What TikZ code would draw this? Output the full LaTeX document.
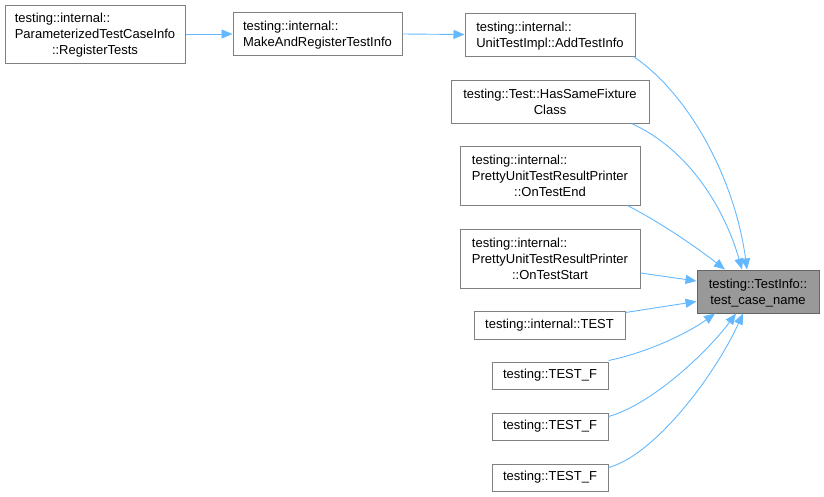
\documentclass[tikz,border=0pt]{standalone}
\usepackage{fontspec}
\setmainfont{Liberation Sans}
\usetikzlibrary{arrows.meta}
\definecolor{edgeblue}{HTML}{63B8FF}
\definecolor{boxgray}{HTML}{808080}
\definecolor{tgtfill}{HTML}{999999}
\definecolor{tgtborder}{HTML}{666666}
\newcommand\fnlines[2]{\raisebox{-1.5pt}[\height][\depth]{\begin{tabular}{@{}l@{}}#1\\\multicolumn{1}{@{}c@{}}{#2}\end{tabular}}}
\tikzset{
  fn/.style={draw=boxgray, line width=1pt, fill=white, rectangle, inner sep=0pt, align=center,
    font=\fontsize{13}{16}\selectfont},
  tgt/.style={fn, draw=tgtborder, fill=tgtfill},
  edge/.style={draw=edgeblue, line width=0.9pt, -{Stealth[length=11pt,width=9pt,inset=0pt]}}
}
\begin{document}
\begin{tikzpicture}[x=1pt,y=-1pt]
\useasboundingbox (0,0) rectangle (824,496);
\node[fn, minimum width=180, minimum height=58] (A) at (95,34) {\fnlines{testing::internal::\\ParameterizedTestCaseInfo}{::RegisterTests}};
\node[fn, minimum width=169, minimum height=43] (B) at (317.5,34) {\fnlines{testing::internal::}{MakeAndRegisterTestInfo}};
\node[fn, minimum width=170, minimum height=43] (C) at (550,34.5) {\fnlines{testing::internal::}{UnitTestImpl::AddTestInfo}};
\node[fn, minimum width=198, minimum height=43] (D) at (550,101.5) {\fnlines{testing::Test::HasSameFixture}{Class}};
\node[fn, minimum width=180, minimum height=59] (E) at (550,175.5) {\fnlines{testing::internal::\\PrettyUnitTestResultPrinter}{::OnTestEnd}};
\node[fn, minimum width=180, minimum height=59] (F) at (550,258.5) {\fnlines{testing::internal::\\PrettyUnitTestResultPrinter}{::OnTestStart}};
\node[tgt, minimum width=122, minimum height=43] (G) at (758,291.5) {\fnlines{testing::TestInfo::}{test\_case\_name}};
\node[fn, minimum width=151, minimum height=28] (H) at (549.5,325) {testing::internal::TEST};
\node[fn, minimum width=116, minimum height=27] (I) at (550,375.5) {testing::TEST\_F};
\node[fn, minimum width=116, minimum height=27] (J) at (550,426.5) {testing::TEST\_F};
\node[fn, minimum width=116, minimum height=27] (K) at (550,477.5) {testing::TEST\_F};

\draw[edge] (A.east) -- (B.west);
\draw[edge] (B.east) -- (C.west);
\draw[edge] ([xshift=-2pt]C.south east) .. controls (690,95) and (735,180) .. ([xshift=-11pt]G.north);
\draw[edge] ([xshift=-18pt]D.south east) .. controls (690,150) and (725,210) .. ([xshift=-16pt]G.north);
\draw[edge] ([xshift=-13pt]E.south east) .. controls (665,225) and (700,250) .. ([xshift=-33pt]G.north);
\draw[edge] ([yshift=-14.5pt]F.east) -- ([yshift=10.5pt]G.west);
\draw[edge] ([yshift=-2pt]H.north east) -- ([yshift=-10pt]G.west);
\draw[edge] ([yshift=1pt]I.north east) .. controls (645,353) and (685,335) .. ([xshift=-43pt]G.south);
\draw[edge] ([yshift=-4pt]J.north east) .. controls (650,405) and (705,355) .. ([xshift=-22pt]G.south);
\draw[edge] ([yshift=-4pt]K.north east) .. controls (655,455) and (715,375) .. ([xshift=-15pt]G.south);
\end{tikzpicture}
\end{document}
